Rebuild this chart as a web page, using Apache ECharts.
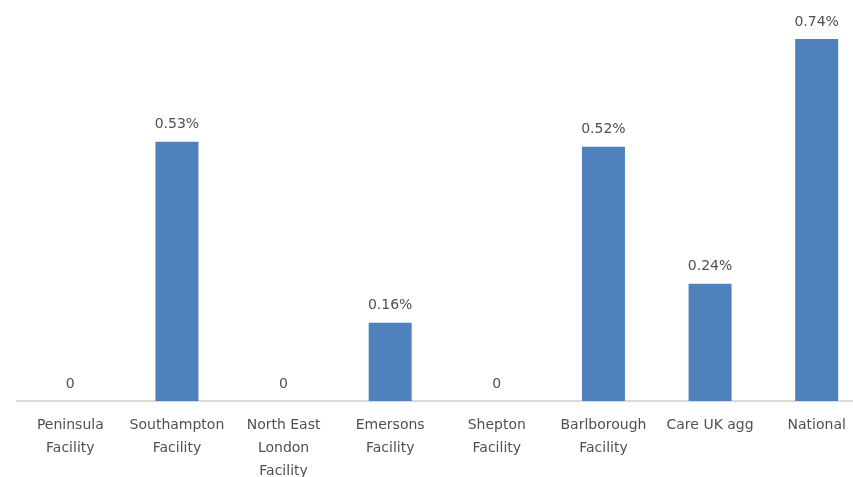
<!DOCTYPE html>
<html>
<head>
<meta charset="utf-8">
<script src="https://cdn.jsdelivr.net/npm/echarts@6/dist/echarts.min.js"></script>
<style>
  html, body { margin: 0; padding: 0; background: #fff; }
  #chart { width: 853px; height: 477px; }
</style>
</head>
<body>
<div id="chart"></div>
<script>
// facility names (line breaks as on the original axis)
const categories = [
  "Peninsula\nFacility",
  "Southampton\nFacility",
  "North East\nLondon\nFacility",
  "Emersons\nFacility",
  "Shepton\nFacility",
  "Barlborough\nFacility",
  "Care UK agg",
  "National"
];
// rates in percent
const rates = [0, 0.53, 0, 0.16, 0, 0.52, 0.24, 0.74];

var chart = echarts.init(document.getElementById("chart"));

const option = {
  animation: false,
  grid: {
    left: 17,
    width: 853,
    top: 0,
    bottom: 76,
    outerBoundsMode: "none"
  },
  xAxis: {
    type: "category",
    data: categories,
    axisLine: { lineStyle: { color: "#d9d9d9", width: 2 } },
    axisTick: { show: false },
    axisLabel: {
      interval: 0,
      margin: 13,
      color: "#505050",
      fontFamily: "DejaVu Sans",
      fontSize: 14,
      lineHeight: 23
    }
  },
  yAxis: {
    type: "value",
    min: 0,
    max: 0.82,
    show: false,
    splitLine: { show: false }
  },
  series: [
    {
      name: "Rate",
      type: "bar",
      data: rates,
      barWidth: 43,
      itemStyle: { color: "#4f81bd" },
      label: {
        show: true,
        position: "top",
        distance: 10,
        color: "#505050",
        fontFamily: "DejaVu Sans",
        fontSize: 14,
        formatter: function (p) {
          return p.value === 0 ? "0" : p.value.toFixed(2) + "%";
        }
      }
    }
  ]
};
chart.setOption(option);
</script>
</body>
</html>
